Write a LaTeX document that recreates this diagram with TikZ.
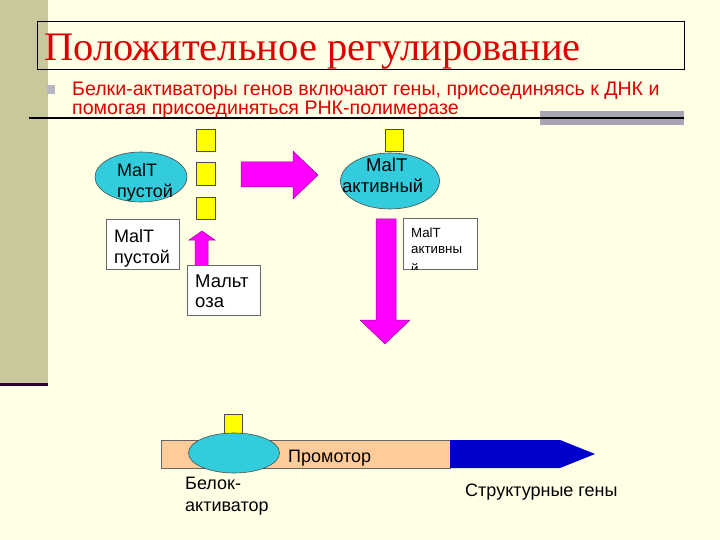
\documentclass[tikz,border=0pt]{standalone}
\usepackage{fontspec}
\setmainfont{Liberation Sans}
\newfontfamily\titlefont{Liberation Serif}
\usetikzlibrary{shapes.geometric}
\definecolor{bgc}{HTML}{FFFFE6}
\definecolor{sidec}{HTML}{C8C89A}
\definecolor{darkl}{HTML}{330033}
\definecolor{redt}{HTML}{DD0000}
\definecolor{cyanc}{HTML}{33CCDD}
\definecolor{magc}{HTML}{FF00FF}
\definecolor{yelc}{HTML}{FFFF00}
\definecolor{peach}{HTML}{FFCC99}
\definecolor{bluec}{HTML}{0000CC}
\definecolor{grayb}{HTML}{A8A4B4}
\tikzset{
  txt/.style={inner sep=0pt, anchor=base west, align=left},
  ell/.style={ellipse, draw=black!70, line width=0.6pt, fill=cyanc, inner sep=0pt},
  ybox/.style={draw=black!70, line width=0.6pt, fill=yelc},
  wbox/.style={draw=black!60, line width=0.6pt, fill=white},
  magarrow/.style={fill=magc, draw=magc!60!black, line width=0.5pt},
}
\begin{document}
\begin{tikzpicture}[x=1pt,y=-1pt]
\useasboundingbox (0,0) rectangle (720,540);
\fill[bgc] (0,0) rectangle (720,540);
\fill[sidec] (0,0) rectangle (48,383);
\fill[darkl] (0,383) rectangle (48,386);
% title
\draw[black, line width=0.8pt] (37,21) rectangle (684,69);
\node[txt, font=\titlefont\fontsize{40.5}{40}\selectfont, text=redt] (title) at (44,61) {Положительное регулирование};
% bullet
\fill[grayb!80] (47,85) rectangle (55,94);
\node[txt, font=\fontsize{19.6}{19}\selectfont, text=redt] (bul) at (72,115) {Белки-активаторы генов включают гены, присоединяясь к ДНК и\\помогая присоединяться РНК-полимеразе};
\fill[grayb] (540,111) rectangle (684,125);
\draw[black, line width=2pt] (29,118) -- (684,118);
% yellow squares
\draw[ybox] (196,129) rectangle (215,151);
\draw[ybox] (196,162) rectangle (215,185);
\draw[ybox] (196,197) rectangle (215,219);
\draw[ybox] (385,129) rectangle (403,151);
% ellipse 1
\node[ell, minimum width=92pt, minimum height=50pt] (e1) at (141,177) {};
\node[txt, font=\fontsize{18}{21}\selectfont] (e1t1) at (117,177) {MalT};
\node[txt, font=\fontsize{18}{21}\selectfont] (e1t2) at (117,198) {пустой};
% right arrow
\draw[magarrow] (241,162) -- (293,162) -- (293,151) -- (318,175) -- (293,199) -- (293,187) -- (241,187) -- cycle;
% ellipse 2
\node[ell, minimum width=99pt, minimum height=56pt] (e2) at (390,181) {};
\node[txt, font=\fontsize{18.5}{21}\selectfont] (e2t1) at (366,172) {MalT};
\node[txt, font=\fontsize{18.5}{21}\selectfont] (e2t2) at (342,193) {активный};
% box MalT пустой
\draw[wbox] (106,219) rectangle (179,269);
\node[txt, font=\fontsize{18}{21}\selectfont] (b1t1) at (114,242) {MalT};
\node[txt, font=\fontsize{18}{21}\selectfont] (b1t2) at (114,263) {пустой};
% up arrow
\draw[magarrow] (195,266) -- (195,240) -- (189,240) -- (202,231) -- (215,240) -- (208,240) -- (208,266) -- cycle;
% box Мальтоза
\draw[wbox] (187,265) rectangle (260,315);
\node[txt, font=\fontsize{18.5}{20}\selectfont] (b2t1) at (195,287) {Мальт};
\node[txt, font=\fontsize{18.5}{20}\selectfont] (b2t2) at (195,307) {оза};
% down arrow
\draw[magarrow] (376,219) -- (396,219) -- (396,320) -- (410,320) -- (385,344) -- (360,320) -- (376,320) -- cycle;
% small box
\draw[wbox] (403,218) rectangle (477,269);
\begin{scope}
\clip (403,218) rectangle (477,269);
\node[txt, font=\fontsize{13.3}{16}\selectfont] (b3t1) at (411,237) {MalT};
\node[txt, font=\fontsize{13.3}{16}\selectfont] (b3t2) at (411,254) {активны};
\node[txt, font=\fontsize{13.3}{16}\selectfont] (b3t3) at (411,273) {й};
\end{scope}
% DNA
\draw[black!60, line width=0.5pt, fill=peach] (161,440) rectangle (450,468);
\fill[bluec] (450,440) -- (560,440) -- (595,454) -- (560,468) -- (450,468) -- cycle;
\draw[ybox] (224,414) rectangle (242,433);
\node[ell, minimum width=91pt, minimum height=40pt] (e3) at (234,453) {};
\node[txt, font=\fontsize{18}{22}\selectfont] (prom) at (288,462) {Промотор};
\node[txt, font=\fontsize{18}{22}\selectfont] (bel1) at (185,489) {Белок-};
\node[txt, font=\fontsize{18}{22}\selectfont] (bel2) at (185,511) {активатор};
\node[txt, font=\fontsize{18}{22}\selectfont] (str) at (465,496) {Структурные гены};
\end{tikzpicture}
\end{document}
